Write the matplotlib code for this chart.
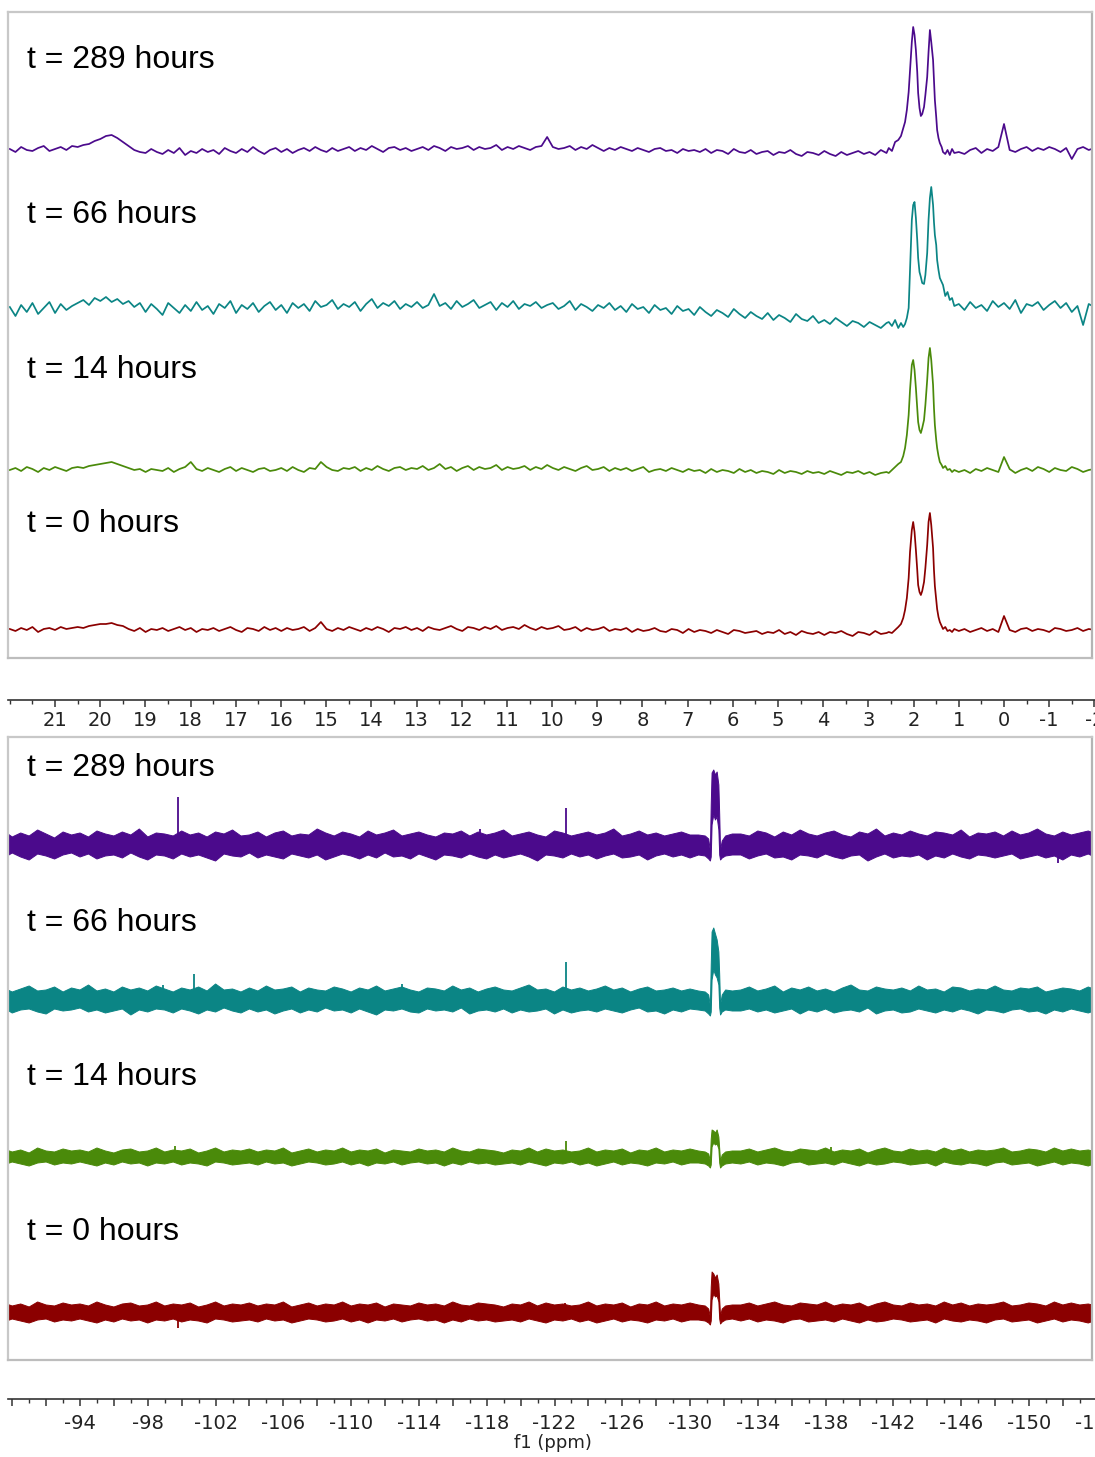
import numpy as np
import matplotlib.pyplot as plt
from matplotlib.ticker import MultipleLocator


# Etiquetas de cada espectro (de arriba hacia abajo)
labels = ['t = 289 hours', 't = 66 hours', 't = 14 hours', 't = 0 hours']

# ---------------- Panel superior (ppm 22 .. -2) ----------------
# Intensidades (unidades arbitrarias, 0 = línea base)
top_grid_left = np.linspace(22.0, 2.6, 156)
top_grid_right = np.linspace(1.0, -2.0, 25)
top_peak_ppm = [2.55, 2.48, 2.41, 2.34, 2.28, 2.23, 2.19, 2.15, 2.11, 2.08,
                2.04, 2.01, 1.98, 1.95, 1.92, 1.90, 1.87, 1.84, 1.81, 1.77,
                1.74, 1.70, 1.67, 1.64, 1.61, 1.57, 1.55, 1.53, 1.50, 1.48,
                1.45, 1.42, 1.38, 1.35, 1.30, 1.25, 1.20, 1.15, 1.10]

top_289_left = [1, -2, 3, 0, -1, 2, 4, -1, 1, 3, 0, 4,
                3, 5, 6, 9, 11, 14, 15, 12, 8, 4, 0, -2,
                -3, 1, -2, -4, 0, -3, 2, -5, -1, -3, 1, -2,
                0, -4, 2, -1, -3, 1, -2, 3, -1, -4, 0, 2,
                -2, 1, -3, 0, 2, -1, 3, 0, -2, 2, -1, 1,
                3, -1, 2, 0, 4, 1, -2, 2, 3, 0, 2, -1,
                1, 3, 0, 4, 2, -1, 3, 1, 2, 4, 0, 3,
                1, 2, 5, 0, 3, 1, 4, 2, 0, 3, 4, 13,
                3, 1, 2, 4, 0, 3, 1, 5, 2, -1, 2, 0,
                3, 1, -1, 2, 0, -2, 1, 2, -1, 0, -3, 1,
                -1, 0, -2, 1, -3, 0, -1, -4, 1, -2, -3, 0,
                -4, -2, -1, -5, -2, -3, 0, -4, -6, -2, -3, -5,
                -1, -4, -6, -2, -5, -3, -1, -4, -2, -5, 0, -3]
top_289_peak = [2, -1, 8, 10, 14, 22, 28, 40, 58, 80,
                108, 123, 115, 100, 78, 57, 42, 34, 36, 43,
                55, 73, 98, 120, 108, 90, 70, 50, 33, 20,
                12, 7, 3, -2, -4, 0, -5, 1, -3]
top_289_right = [-2, -4, 0, 2, -3, 1, -1, 3, 26, 0, -2, 1, 3, -1, 2, 0, 3, 1, -2, 2,
                 -9, 1, 3, 0, 2]

top_66_left = [3, -6, 5, -2, 7, -4, 2, 8, -3, 6, 0, 4,
               7, 10, 5, 12, 9, 13, 8, 11, 6, 9, 3, 7,
               -2, 6, 1, -5, 7, 2, -3, 5, -1, 8, 0, 4,
               -4, 6, 2, 9, -3, 5, 1, 7, -2, 4, 8, 0,
               5, -3, 7, 2, 6, -1, 9, 3, 5, 10, 1, 6,
               3, 8, -1, 6, 11, 2, 7, 4, 9, 1, 6, 3,
               8, 2, 5, 16, 4, 7, 1, 9, 3, 6, 10, 2,
               5, 8, 0, 7, 3, 9, 1, 6, 4, 8, 2, 5,
               7, 1, 4, 9, 0, 6, 3, -1, 5, 2, 7, 0,
               4, -2, 6, 1, 3, -3, 5, 0, 2, -4, 4, -1,
               1, -5, 3, -2, -6, 0, -3, -7, 1, -4, -8, -2,
               -6, -9, -3, -10, -5, -8, -12, -4, -9, -11, -6, -13,
               -10, -14, -8, -12, -16, -11, -13, -17, -12, -15, -18, -13]
top_66_peak = [-12, -16, -10, -18, -13, -17, -14, -8, 2, 40,
               90, 105, 108, 92, 70, 52, 38, 33, 27, 26,
               35, 57, 90, 112, 123, 105, 88, 75, 65, 50,
               40, 32, 28, 25, 14, 18, 10, 12, 4]
top_66_right = [6, 0, 8, 2, 5, -1, 9, 3, 7, 1, 10, -3, 6, 4, 8, 0, 5, 9, 2, 7,
                -2, 4, -15, 6, 3]

top_14_left = [0, 2, -1, 3, 1, -2, 2, 0, 3, 1, -1, 2,
               3, 2, 4, 5, 6, 7, 8, 6, 4, 2, 0, 1,
               -2, 1, 0, -1, 2, -2, 1, 3, 8, 1, -1, 2,
               0, -2, 1, 3, -1, 2, 0, -2, 1, 2, -1, 0,
               2, -1, 3, 0, -2, 2, 1, 8, 3, 0, -1, 2,
               1, 3, -1, 2, 0, 4, 1, -1, 2, 3, 0, 2,
               1, 4, 0, 2, 6, 1, 3, -1, 2, 4, 0, 3,
               1, 2, 5, 0, 3, 1, 2, 4, 0, 3, 1, 5,
               2, 0, 3, 1, -1, 2, 4, 0, 1, 3, -1, 2,
               0, 2, -1, 1, 3, -2, 0, 1, -1, 2, 0, -2,
               1, -1, 0, -3, 1, -2, 0, -1, -3, 1, -2, 0,
               -3, -1, -2, -4, 0, -3, -1, -2, -4, -1, -3, -2,
               -4, -1, -3, -5, -2, -3, -1, -4, -2, -5, -3, -2]
top_14_peak = [-3, 0, 3, 6, 8, 14, 22, 35, 55, 80,
               105, 110, 100, 82, 62, 48, 40, 37, 42, 50,
               65, 90, 112, 122, 110, 85, 62, 45, 30, 22,
               14, 8, 5, 2, 4, 0, 1, -2, 0]
top_14_right = [-2, 0, -3, 1, -1, 2, 0, -2, 13, 1, -3, 0, 2, -1, 3, 1, -2, 2, 0, -1,
                3, 1, -2, 0, 1]

top_0_left = [1, -1, 2, 0, 3, -2, 1, 2, 0, 3, 1, 2,
              3, 2, 4, 5, 6, 6, 7, 5, 4, 1, -1, 2,
              -2, 1, 0, 2, -1, 1, 3, 0, 2, -2, 1, 0,
              2, -1, 1, 3, 0, -2, 2, 1, -1, 3, 0, 2,
              -1, 2, 0, 1, 3, -1, 2, 8, 1, -1, 2, 0,
              3, 1, -1, 2, 0, 3, 1, -2, 2, 1, 3, 0,
              2, -1, 3, 1, 0, 2, 4, 1, -1, 3, 2, 0,
              3, 1, 4, 0, 2, 3, 1, 5, 2, 0, 3, 1,
              2, 4, 0, 1, 3, -1, 2, 0, 1, 3, -1, 1,
              0, 2, -2, 1, -1, 0, 2, -1, -2, 1, 0, -3,
              1, -2, 0, -1, -3, 0, -2, -4, 0, -1, -3, -2,
              -1, -4, -2, -3, 0, -4, -2, -5, -1, -3, -4, -2,
              -5, -2, -3, -1, -4, -6, -2, -3, -5, -1, -4, -3]
top_0_peak = [-2, -3, 0, 3, 6, 12, 20, 32, 52, 78,
              100, 108, 98, 80, 60, 45, 38, 35, 39, 48,
              62, 85, 108, 117, 105, 82, 60, 44, 30, 21,
              13, 8, 4, 1, 3, -1, 0, -2, 1]
top_0_right = [-1, 1, -2, 0, 2, -1, 1, -2, 14, 0, -2, 1, 2, -1, 1, 0, -2, 2, 1, -1,
               0, 2, -1, 1, 0]

top_ticks = [21, 20, 19, 18, 17, 16, 15, 14, 13, 12, 11, 10, 9, 8, 7, 6, 5, 4,
             3, 2, 1, 0, -1, -2]

# ---------------- Panel inferior (ppm -89 .. -154) ----------------
# Envolvente superior (hi) e inferior (lo) del ruido: izquierda + pico + derecha
bot_grid_left = np.linspace(-89, -130, 83)
bot_grid_right = np.linspace(-133, -154, 43)
bot_peak_ppm = [-130.5, -130.9, -131.1, -131.2, -131.25, -131.3, -131.4, -131.5,
                -131.6, -131.7, -131.75, -131.8, -131.9, -132.1, -132.5]

bot_289_hi = ([10, 14, 8, 12, 9, 15, 11, 7, 13, 10, 12, 8, 14, 11, 9, 13, 10, 16, 8, 12,
               11, 9, 14, 10, 12, 8, 13, 11, 15, 9, 10, 13, 8, 12, 14, 9, 11, 10, 16, 12,
               9, 13, 11, 8, 14, 10, 12, 15, 9, 11, 13, 10, 8, 12, 11, 14, 9, 13, 10, 12,
               15, 9, 11, 13, 10, 8, 14, 12, 9, 11, 13, 10, 12, 16, 9, 11, 14, 10, 12, 9,
               11, 13, 10]
              + [10, 9, 6, -6, 40, 72, 75, 70, 73, 60, 30, -5, 4, 9, 11]
              + [11, 9, 14, 12, 8, 13, 10, 15, 11, 9, 12, 14, 10, 8, 13, 11, 16, 9, 12, 10,
                 14, 11, 9, 13, 12, 10, 15, 8, 12, 11, 13, 9, 14, 10, 12, 16, 11, 9, 13, 10,
                 12, 14, 11])
bot_289_lo = ([-10, -13, -8, -12, -15, -9, -11, -14, -10, -8, -12, -9, -14, -11, -10, -13,
               -8, -12, -15, -10, -11, -14, -9, -12, -10, -13, -16, -9, -11, -12, -8, -13,
               -10, -12, -14, -9, -11, -13, -10, -15, -12, -9, -11, -14, -10, -13, -8, -12,
               -11, -14, -9, -12, -15, -10, -11, -13, -9, -12, -14, -10, -13, -11, -9, -12,
               -16, -10, -11, -13, -9, -12, -10, -14, -11, -9, -13, -12, -10, -15, -11, -9,
               -12, -10, -13]
              + [-10, -11, -14, -16, -12, 20, 30, 25, 28, 15, -10, -15, -13, -11, -10]
              + [-10, -14, -11, -9, -13, -12, -15, -10, -11, -13, -9, -12, -14, -11, -10,
                 -16, -12, -9, -13, -11, -12, -10, -15, -11, -13, -9, -12, -14, -10, -11,
                 -13, -11, -9, -14, -12, -10, -13, -11, -15, -10, -12, -9, -13])
bot_289_spike_ppm = [-99.8, -122.65, -117.6, -151.7]
bot_289_spike_h = [48, 37, 16, -18]

bot_66_hi = ([9, 12, 8, 11, 14, 9, 10, 13, 8, 12, 10, 15, 9, 11, 8, 13, 10, 12, 9, 14,
              11, 8, 12, 10, 13, 9, 16, 10, 11, 8, 12, 9, 14, 10, 11, 13, 8, 12, 10, 9,
              13, 11, 8, 12, 10, 14, 9, 11, 13, 10, 8, 12, 11, 9, 14, 10, 12, 8, 11, 13,
              10, 9, 12, 15, 10, 11, 8, 13, 10, 12, 9, 11, 14, 10, 12, 8, 11, 13, 9, 10,
              12, 9, 11]
             + [9, 8, 5, -6, 35, 68, 72, 66, 60, 48, 25, -5, 5, 10, 9]
             + [10, 13, 9, 11, 14, 8, 12, 10, 13, 9, 11, 8, 12, 15, 10, 9, 13, 11, 10, 12,
                9, 14, 10, 11, 8, 13, 12, 9, 11, 10, 14, 10, 9, 12, 11, 13, 8, 10, 12, 11,
                9, 13, 10])
bot_66_lo = ([-11, -8, -13, -10, -9, -12, -14, -9, -11, -10, -8, -12, -10, -13, -11, -9,
              -15, -10, -12, -9, -10, -13, -9, -11, -14, -10, -12, -8, -11, -13, -9, -12,
              -10, -14, -11, -9, -13, -10, -12, -8, -11, -10, -13, -9, -12, -15, -10, -11,
              -9, -12, -13, -9, -11, -10, -12, -8, -14, -11, -10, -12, -9, -13, -10, -12,
              -11, -9, -14, -10, -13, -11, -10, -12, -9, -11, -13, -10, -8, -12, -11, -14,
              -10, -12, -9]
             + [-10, -11, -14, -16, -12, 20, 30, 25, 22, 15, -8, -15, -12, -10, -11]
             + [-11, -9, -12, -10, -13, -11, -9, -14, -10, -12, -9, -13, -11, -10, -12,
                -8, -14, -11, -10, -13, -12, -9, -11, -13, -10, -12, -9, -11, -14, -10,
                -11, -13, -10, -9, -12, -11, -14, -10, -12, -9, -11, -13, -10])
bot_66_spike_ppm = [-98.9, -100.7, -113.0, -122.65]
bot_66_spike_h = [15, 26, 16, 38]

bot_14_hi = ([6, 8, 5, 7, 4, 9, 6, 5, 8, 6, 7, 5, 9, 6, 4, 7, 8, 5, 6, 9,
              5, 7, 6, 8, 4, 6, 9, 5, 7, 6, 8, 5, 7, 6, 9, 4, 6, 8, 5, 7,
              6, 9, 5, 7, 6, 8, 4, 7, 6, 5, 8, 6, 7, 5, 9, 6, 5, 8, 7, 6,
              4, 7, 6, 9, 5, 8, 6, 7, 5, 6, 9, 5, 7, 6, 8, 4, 7, 6, 9, 5,
              7, 6, 8]
             + [6, 5, 3, -4, 18, 27, 26, 24, 27, 20, 8, -4, 2, 5, 6]
             + [6, 8, 5, 7, 9, 6, 5, 8, 7, 6, 9, 5, 7, 6, 8, 4, 7, 9, 6, 5,
                8, 6, 7, 5, 9, 6, 8, 5, 7, 6, 7, 9, 5, 6, 8, 7, 5, 9, 6, 8,
                6, 7, 5])
bot_14_lo = ([-6, -8, -5, -7, -9, -6, -5, -8, -6, -7, -5, -7, -9, -6, -8, -5, -7, -6, -9,
              -6, -7, -5, -8, -6, -7, -9, -5, -6, -8, -7, -6, -8, -5, -7, -6, -9, -7, -5,
              -6, -8, -7, -5, -8, -6, -9, -6, -7, -5, -8, -6, -5, -7, -6, -9, -6, -8, -5,
              -7, -6, -8, -7, -6, -8, -5, -7, -9, -6, -7, -5, -8, -6, -9, -7, -5, -8, -6,
              -7, -9, -6, -7, -5, -8, -6]
             + [-6, -7, -9, -11, -8, 10, 14, 12, 13, 8, -6, -11, -9, -7, -6]
             + [-7, -5, -8, -6, -7, -9, -6, -5, -8, -7, -6, -8, -5, -7, -9, -6, -8, -7,
                -5, -6, -8, -7, -6, -9, -5, -7, -8, -6, -7, -9, -6, -5, -8, -7, -6, -9,
                -7, -5, -8, -6, -7, -9, -6])
bot_14_spike_ppm = [-99.6, -122.65, -138.3]
bot_14_spike_h = [11, 16, 10]

bot_0_hi = ([7, 9, 6, 8, 5, 10, 7, 6, 9, 7, 8, 6, 10, 7, 5, 8, 9, 6, 7, 10,
             6, 8, 7, 9, 5, 7, 10, 6, 8, 7, 9, 6, 8, 7, 10, 5, 7, 9, 6, 8,
             7, 10, 6, 8, 7, 9, 5, 8, 7, 6, 9, 7, 8, 6, 10, 7, 6, 9, 8, 7,
             5, 8, 7, 10, 6, 9, 7, 8, 6, 7, 10, 6, 8, 7, 9, 5, 8, 7, 10, 6,
             8, 7, 9]
            + [7, 6, 3, -5, 25, 40, 38, 34, 37, 28, 12, -4, 3, 6, 7]
            + [7, 9, 6, 8, 10, 7, 6, 9, 8, 7, 10, 6, 8, 7, 9, 5, 8, 10, 7, 6,
               9, 7, 8, 6, 10, 7, 9, 6, 8, 7, 8, 10, 6, 7, 9, 8, 6, 10, 7, 9,
               7, 8, 6])
bot_0_lo = ([-8, -10, -7, -9, -11, -8, -7, -10, -8, -9, -7, -9, -11, -8, -10, -7, -9, -8,
             -11, -8, -9, -7, -10, -8, -9, -11, -7, -8, -10, -9, -8, -10, -7, -9, -8, -11,
             -9, -7, -8, -10, -9, -7, -10, -8, -11, -8, -9, -7, -10, -8, -7, -9, -8, -11,
             -8, -10, -7, -9, -8, -10, -9, -8, -10, -7, -9, -11, -8, -9, -7, -10, -8, -11,
             -9, -7, -10, -8, -9, -11, -8, -9, -7, -10, -8]
            + [-8, -9, -11, -13, -9, 12, 18, 15, 16, 10, -7, -12, -10, -8, -7]
            + [-9, -7, -10, -8, -9, -11, -8, -7, -10, -9, -8, -10, -7, -9, -11, -8, -10,
               -9, -7, -8, -10, -9, -8, -11, -7, -9, -10, -8, -9, -11, -8, -7, -10, -9,
               -8, -11, -9, -7, -10, -8, -9, -11, -8])
bot_0_spike_ppm = [-99.8, -122.6]
bot_0_spike_h = [-16, 9]

bot_tick_labels = [-94, -98, -102, -106, -110, -114, -118, -122, -126, -130,
                   -134, -138, -142, -146, -150, -154]

# Estilo
colores = ['#4b0a8c', '#0b8585', '#4a8a0a', '#8b0000']
top_offsets = [508, 348, 188, 28]
bot_offsets = [515, 360, 203, 48]
top_label_y = [598, 443, 288, 134]
bot_label_y = [592, 437, 283, 128]

W, H = 1095, 1457
fig = plt.figure(figsize=(W / 100, H / 100), dpi=100)
plt.rcParams['font.family'] = 'DejaVu Sans'


def caja(ax):
    for s in ax.spines.values():
        s.set_color('#c8c8c8')
        s.set_linewidth(1.6)
    ax.spines['right'].set_color('#b4b4b4')
    ax.spines['bottom'].set_color('#bdbdbd')
    ax.set_xticks([])
    ax.set_yticks([])


def eje_ppm(ax, xlim, minor, pad):
    for s in ['left', 'right', 'top']:
        ax.spines[s].set_visible(False)
    ax.spines['bottom'].set_color('#333333')
    ax.spines['bottom'].set_linewidth(1.2)
    ax.set_yticks([])
    ax.set_xlim(xlim)
    ax.xaxis.set_minor_locator(MultipleLocator(minor))
    ax.tick_params(axis='x', which='major', length=5, width=1.1, color='#333333',
                   labelsize=14, labelcolor='#222222', pad=pad)
    ax.tick_params(axis='x', which='minor', length=3, width=1.0, color='#333333')


# ---- Panel superior ----
ax1 = fig.add_axes([8 / W, 1 - 658 / H, 1084 / W, 646 / H])
top_left = [top_289_left, top_66_left, top_14_left, top_0_left]
top_peak = [top_289_peak, top_66_peak, top_14_peak, top_0_peak]
top_right = [top_289_right, top_66_right, top_14_right, top_0_right]
xt = np.concatenate([top_grid_left, top_peak_ppm, top_grid_right])
for k in range(4):
    y = np.concatenate([top_left[k], top_peak[k], top_right[k]]) + top_offsets[k]
    ax1.plot(xt, y, color=colores[k], lw=1.25)
    ax1.text(19 / 1084, top_label_y[k] / 646, labels[k], transform=ax1.transAxes,
             fontsize=23, family='Liberation Sans', va='center', ha='left')
ax1.set_xlim(22.04, -1.947)
ax1.set_ylim(0, 646)
caja(ax1)

ax1t = fig.add_axes([8 / W, 1 - 700 / H, 1092 / W, 0.0005])
eje_ppm(ax1t, (22.04, -2.124), 0.5, 3)
ax1t.set_xticks(top_ticks)
ax1t.set_xticklabels([str(t) for t in top_ticks])

# ---- Panel inferior ----
ax2 = fig.add_axes([8 / W, 1 - 1360 / H, 1084 / W, 623 / H])
bot_hi = [bot_289_hi, bot_66_hi, bot_14_hi, bot_0_hi]
bot_lo = [bot_289_lo, bot_66_lo, bot_14_lo, bot_0_lo]
bot_sp = [bot_289_spike_ppm, bot_66_spike_ppm, bot_14_spike_ppm, bot_0_spike_ppm]
bot_sh = [bot_289_spike_h, bot_66_spike_h, bot_14_spike_h, bot_0_spike_h]
xb = np.concatenate([bot_grid_left, bot_peak_ppm, bot_grid_right])
for k in range(4):
    hi = np.array(bot_hi[k]) + bot_offsets[k]
    lo = np.array(bot_lo[k]) + bot_offsets[k]
    ax2.fill_between(xb, lo, hi, facecolor=colores[k], edgecolor=colores[k], lw=0.7)
    ax2.vlines(bot_sp[k], bot_offsets[k], np.array(bot_sh[k]) + bot_offsets[k],
               color=colores[k], lw=1.3)
    ax2.text(19 / 1084, bot_label_y[k] / 623, labels[k], transform=ax2.transAxes,
             fontsize=23, family='Liberation Sans', va='center', ha='left')
ax2.set_xlim(-89.75, -153.72)
ax2.set_ylim(0, 623)
caja(ax2)

ax2t = fig.add_axes([8 / W, 1 - 1399 / H, 1092 / W, 0.0005])
eje_ppm(ax2t, (-89.75, -154.19), 1, 6)
bot_major = list(range(-90, -156, -2))
ax2t.set_xticks(bot_major)
ax2t.set_xticklabels([str(t) if t in bot_tick_labels else '' for t in bot_major])

fig.text(553 / W, 1 - 1443 / H, 'f1 (ppm)', fontsize=13, ha='center', va='center',
         color='#222222')

plt.savefig('out.png', dpi=100)
